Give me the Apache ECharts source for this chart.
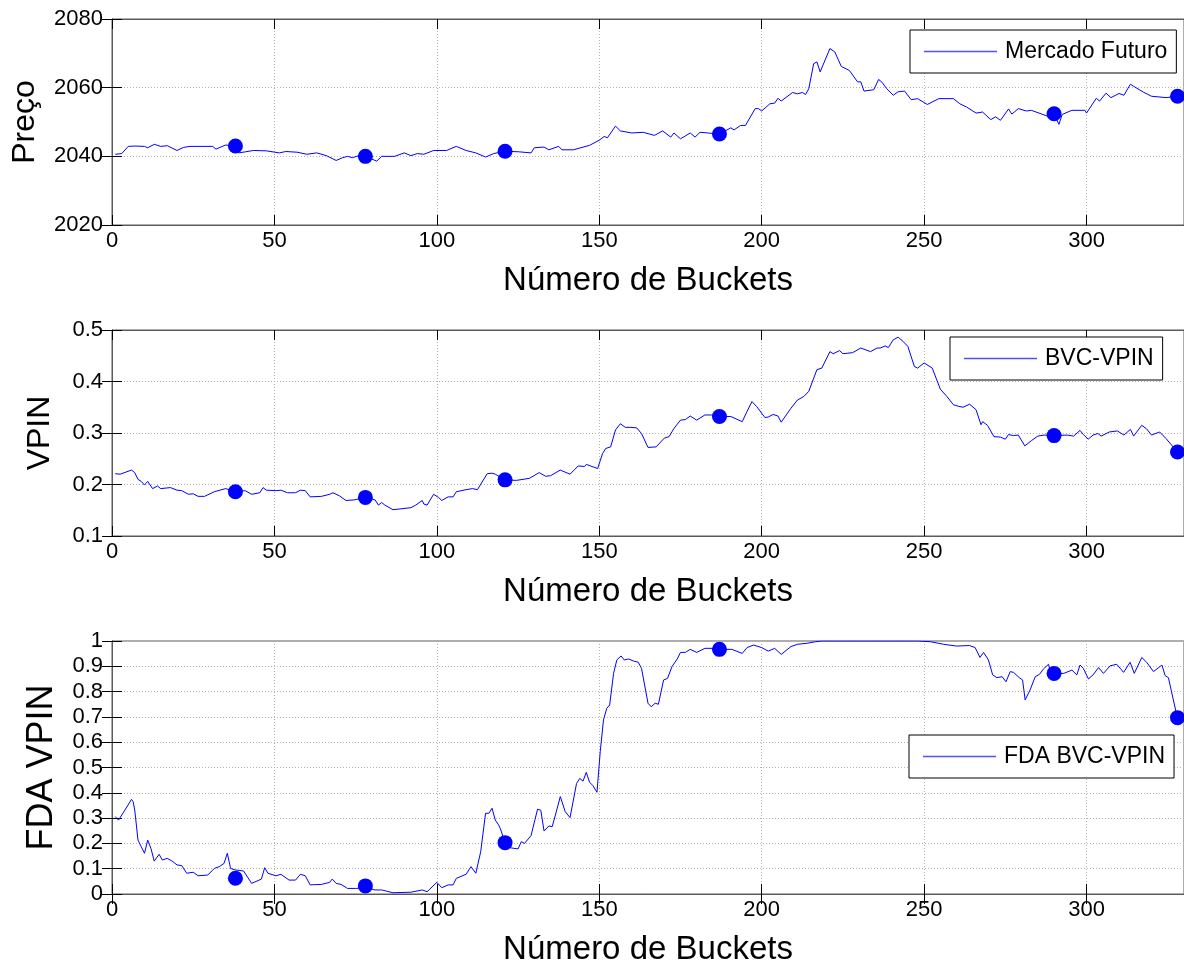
<!DOCTYPE html>
<html>
<head>
<meta charset="utf-8">
<script src="https://cdn.jsdelivr.net/npm/echarts@6/dist/echarts.min.js"></script>
<style>
  html, body { margin: 0; padding: 0; background: #fff; }
  #chart { width: 1184px; height: 967px; }
</style>
</head>
<body>
<div id="chart"></div>
<script>
// Futures price per volume bucket
const priceBuckets = [1,3,5,7,10,11,13,15,17,20,22,24,28,31,32,35,38,39,41,43.5,47.5,51.5,53.5,57,60,63,66,69,71,72.5,74,76,78,80,81.5,83,87,90,92,94,96,99,103,106,109,112,115,117.5,121,125.5,129,130,133,134.5,137.5,138.5,142,147,150,151.5,152.5,155,156.5,160,163.5,167,169.5,172,173,175,178,179.5,181,183.5,187,190.5,191.5,193.5,195,198,199,200,202.5,204,205,206,209.5,211,212.5,213.5,214.5,216,217,218,221,222.5,224.5,227,229.5,230.5,231.5,234.5,236,237,238.5,239,240.5,242,244,246,248,251,254.5,259,261,263,266,268,270.5,272,273.5,276,277,279,281.5,283,288,290,291.5,292.5,295.5,299.5,300,303,304,306,307.5,310,311.5,313.5,314.5,317.5,320,324.5,328];
const priceValues = [2040.6,2040.8,2042.9,2043.0,2042.9,2042.5,2043.5,2042.9,2043.1,2041.7,2042.6,2042.9,2042.9,2042.9,2042.1,2043.3,2043.0,2041.0,2041.3,2041.7,2041.6,2041.0,2041.4,2041.2,2040.6,2041.0,2040.2,2038.8,2039.6,2040.0,2039.6,2040.2,2040.0,2039.2,2038.6,2040.0,2040.0,2041.0,2040.2,2040.8,2040.6,2041.7,2041.7,2042.9,2041.7,2041.0,2039.8,2040.8,2041.5,2041.3,2041.0,2042.5,2042.7,2041.9,2042.9,2041.9,2041.9,2043.2,2044.7,2045.8,2045.4,2048.8,2047.4,2046.8,2047.0,2046.1,2047.4,2045.6,2046.8,2045.1,2046.8,2045.6,2047.0,2046.8,2046.5,2048.3,2047.7,2049.0,2049.0,2053.9,2053.9,2053.2,2055.3,2055.5,2056.9,2056.1,2058.6,2058.2,2058.6,2058.0,2059.7,2067.0,2067.5,2064.6,2071.4,2070.4,2066.2,2065.0,2061.7,2061.7,2059.0,2059.4,2062.4,2061.6,2059.7,2060.0,2057.8,2058.8,2059.0,2056.5,2056.8,2055.1,2056.8,2056.8,2055.3,2054.4,2052.6,2052.9,2050.7,2051.5,2050.5,2053.8,2052.3,2053.9,2053.2,2053.4,2051.7,2052.4,2049.3,2052.2,2053.4,2053.4,2052.6,2056.9,2056.1,2058.4,2057.1,2058.3,2057.8,2061.0,2060.4,2058.7,2057.5,2057.1,2057.5];

// BVC-VPIN per volume bucket
const vpinBuckets = [1,2.5,6,7,8,9,10,11,12.5,14,15,18,20,21.5,23.5,25,26.5,28.5,31.5,35,38,41,43,45.5,46.5,47.5,50.5,52,54,56.5,58,59.5,61,64.5,67,68,70,72,74.5,78,81,82,83,84,86.5,92,93.5,95.5,96,97,99,100.5,101.5,103.5,105,106,109,111,112.5,115.5,117,118,121,124.5,128.5,131.5,133.5,135,138,141,143.5,145.5,146,149.5,151,152,153.5,155,156.5,158,159.5,161.5,163,165,167.5,170,171.5,173,175,176.5,178,180,182.5,184.5,187,190.5,194,195.5,196,197,198.5,201,202,203.5,205,206,209,211,213,214.5,217,218.5,221,222,224,225,226.5,228,230.5,233.5,235.5,236.5,238,239,240.5,242,243.5,245,247,248,250,252.5,255,257,259,260.5,262,264,266,267.5,268,269.5,271.5,273.5,275,276,277.5,279,281,283,285,287,290,294,296,298,299,300.5,302,303.5,304.5,307,309.5,311.5,313.5,314.5,317,318.5,320,322.5,324.5,328];
const vpinValues = [0.221,0.220,0.228,0.223,0.210,0.206,0.199,0.206,0.192,0.197,0.192,0.194,0.189,0.188,0.181,0.182,0.177,0.177,0.186,0.192,0.186,0.188,0.181,0.184,0.194,0.189,0.188,0.189,0.184,0.184,0.189,0.188,0.176,0.177,0.181,0.184,0.178,0.169,0.170,0.175,0.170,0.160,0.165,0.160,0.151,0.155,0.160,0.169,0.162,0.160,0.181,0.175,0.169,0.176,0.176,0.186,0.190,0.192,0.190,0.221,0.222,0.220,0.209,0.208,0.212,0.223,0.216,0.217,0.228,0.220,0.236,0.235,0.239,0.231,0.260,0.270,0.273,0.306,0.318,0.311,0.311,0.310,0.299,0.272,0.273,0.290,0.293,0.309,0.325,0.326,0.333,0.325,0.335,0.335,0.332,0.332,0.322,0.342,0.344,0.361,0.351,0.330,0.331,0.336,0.333,0.321,0.348,0.364,0.371,0.381,0.423,0.426,0.458,0.454,0.460,0.454,0.455,0.456,0.465,0.458,0.465,0.465,0.469,0.466,0.481,0.486,0.478,0.468,0.429,0.426,0.436,0.426,0.385,0.371,0.355,0.352,0.350,0.356,0.345,0.316,0.322,0.315,0.293,0.292,0.288,0.297,0.295,0.296,0.275,0.285,0.294,0.296,0.295,0.296,0.294,0.305,0.297,0.288,0.296,0.299,0.294,0.302,0.304,0.296,0.307,0.294,0.315,0.308,0.296,0.302,0.289,0.263];

// FDA of BVC-VPIN per volume bucket
const fdaBuckets = [1,2,4,6,6.5,7,8,9,10,11,12,13,14.5,15.5,17,18.5,20,21.5,23,25,26.5,29.5,31.5,33,34.5,35.5,36.5,38,40.5,43,46,47,48,50.5,52,54.5,56.5,58,59.5,61,64.5,67,67.8,69,70.5,72.5,75,78,81,83,86.5,92,95.5,97,100,101.5,103.5,105,106,109,110.5,112,113.5,115,116,117,118,119,119.5,121,122.5,125,126,127,129,131,132,133,134.5,135.5,136.5,138,139.5,141,143,144,145,146,147,148,149.3,150.3,151.3,152.3,153.2,154.4,155.4,156.7,157.7,159,160.5,162,163,165,166,167.2,168.2,169.8,171,172.4,174,175,176.5,178,180,182.5,185,187,190.8,194,195.5,197.5,200,202,204,206,209,211,214,216.5,218.5,248,252,256,260,264,265.7,267.2,268.3,269.8,271.1,272.4,274,275.2,276.5,277.5,278,279.3,280.3,281.1,282.6,284.2,285.5,286.7,288.3,289,290,293,295.5,297,298,299,300.6,302,303.7,305.2,307.3,309.3,311.4,313.4,314.7,317,318.5,319,320.6,323.2,324.2,325.2,327.8,328];
const fdaValues = [0.306,0.292,0.332,0.374,0.365,0.332,0.213,0.187,0.161,0.213,0.180,0.130,0.157,0.134,0.141,0.130,0.115,0.112,0.082,0.086,0.072,0.075,0.101,0.108,0.121,0.161,0.101,0.095,0.091,0.042,0.059,0.104,0.082,0.072,0.078,0.055,0.055,0.078,0.072,0.036,0.038,0.046,0.059,0.042,0.038,0.022,0.022,0.025,0.016,0.016,0.005,0.007,0.016,0.009,0.046,0.025,0.036,0.036,0.062,0.078,0.108,0.082,0.167,0.319,0.319,0.339,0.292,0.273,0.260,0.203,0.183,0.178,0.207,0.200,0.231,0.335,0.331,0.249,0.269,0.266,0.312,0.385,0.326,0.302,0.437,0.457,0.446,0.481,0.442,0.429,0.402,0.563,0.688,0.734,0.747,0.872,0.925,0.941,0.925,0.929,0.921,0.916,0.892,0.754,0.740,0.754,0.750,0.846,0.852,0.899,0.929,0.955,0.955,0.967,0.955,0.971,0.971,0.967,0.967,0.951,0.974,0.984,0.974,0.960,0.971,0.947,0.978,0.987,0.991,0.997,1.0,1.0,0.997,0.987,0.980,0.982,0.974,0.935,0.955,0.925,0.866,0.855,0.859,0.839,0.879,0.876,0.881,0.855,0.846,0.767,0.806,0.859,0.868,0.889,0.908,0.875,0.872,0.872,0.885,0.866,0.905,0.892,0.850,0.866,0.895,0.872,0.902,0.908,0.876,0.916,0.872,0.935,0.916,0.921,0.879,0.905,0.863,0.855,0.705,0.697];

// Highlighted buckets
const markBuckets = [38, 78, 121, 187, 290, 328];
const priceMarks = [2043.0, 2040.0, 2041.5, 2046.5, 2052.4, 2057.5];
const vpinMarks = [0.186, 0.175, 0.209, 0.332, 0.295, 0.263];
const fdaMarks = [0.062, 0.032, 0.203, 0.967, 0.872, 0.697];

const xTitle = 'Número de Buckets';
const panelTitles = ['Preço', 'VPIN', 'FDA VPIN'];
const seriesNames = ['Mercado Futuro', 'BVC-VPIN', 'FDA BVC-VPIN'];
const yRanges = [[2020, 2080, 20], [0.1, 0.5, 0.1], [0, 1, 0.1]];
const xRange = [0, 330, 50];

const FONT = 'Liberation Sans, Arial, Helvetica, sans-serif';
const BLUE = '#0000ff';
const FRAME = '#5a5a5a';

const zip = (xs, ys) => xs.map((x, i) => [x, ys[i]]);

const panels = [
  { top: 19, height: 206, line: zip(priceBuckets, priceValues), marks: zip(markBuckets, priceMarks),
    yNameGap: 71, yNameSize: 32, legend: { left: 910, top: 30 } },
  { top: 330, height: 206, line: zip(vpinBuckets, vpinValues), marks: zip(markBuckets, vpinMarks),
    yNameGap: 56, yNameSize: 32, legend: { left: 950, top: 337 } },
  { top: 641, height: 253, line: zip(fdaBuckets, fdaValues), marks: zip(markBuckets, fdaMarks),
    yNameGap: 52, yNameSize: 36, legend: { left: 909, top: 735 } }
];

const grids = [], xAxes = [], yAxes = [], series = [], legends = [];
const tickStyle = { show: true, inside: true, length: 10, lineStyle: { color: '#000', width: 1 } };
const gridLine = { show: true, lineStyle: { color: '#b4b4b4', type: [1, 2], width: 1 } };

panels.forEach((p, i) => {
  grids.push({ left: 112, top: p.top, width: 1072, height: p.height, show: true,
    borderColor: FRAME, borderWidth: 1, backgroundColor: '#fff' });
  // bottom x axis with labels and title
  xAxes.push({
    type: 'value', gridIndex: i, position: 'bottom', min: xRange[0], max: xRange[1], interval: xRange[2],
    name: xTitle, nameLocation: 'middle', nameGap: 39,
    nameTextStyle: { fontFamily: FONT, fontSize: 33, color: '#000' },
    axisLine: { show: true, lineStyle: { color: FRAME } },
    axisTick: tickStyle,
    axisLabel: { fontFamily: FONT, fontSize: 22, color: '#000', margin: 5, showMaxLabel: false },
    splitLine: gridLine
  });
  // top x axis: inward ticks only
  xAxes.push({
    type: 'value', gridIndex: i, position: 'top', min: xRange[0], max: xRange[1], interval: xRange[2],
    axisLine: { show: true, lineStyle: { color: FRAME } },
    axisTick: tickStyle, axisLabel: { show: false }, splitLine: { show: false }
  });
  const yr = yRanges[i];
  yAxes.push({
    type: 'value', gridIndex: i, position: 'left', min: yr[0], max: yr[1], interval: yr[2],
    name: panelTitles[i], nameLocation: 'middle', nameRotate: 90, nameGap: p.yNameGap,
    nameTextStyle: { fontFamily: FONT, fontSize: p.yNameSize, color: '#000' },
    axisLine: { show: true, lineStyle: { color: FRAME } },
    axisTick: tickStyle,
    axisLabel: { fontFamily: FONT, fontSize: 22, color: '#000', margin: 9,
      formatter: v => String(Math.round(v * 1000) / 1000) },
    splitLine: gridLine
  });
  // right y axis: inward ticks only
  yAxes.push({
    type: 'value', gridIndex: i, position: 'right', min: yr[0], max: yr[1], interval: yr[2],
    axisLine: { show: true, lineStyle: { color: FRAME } },
    axisTick: tickStyle, axisLabel: { show: false }, splitLine: { show: false }
  });
  series.push({
    name: seriesNames[i], type: 'line', xAxisIndex: 2 * i, yAxisIndex: 2 * i,
    data: p.line, symbol: 'none', showSymbol: false, smooth: false, animation: false,
    lineStyle: { color: BLUE, width: 1 }, itemStyle: { color: BLUE }
  });
  series.push({
    type: 'scatter', xAxisIndex: 2 * i, yAxisIndex: 2 * i,
    data: p.marks, symbol: 'circle', symbolSize: 15, animation: false,
    itemStyle: { color: BLUE, opacity: 1 }, z: 5
  });
  legends.push({
    data: [{ name: seriesNames[i], icon: 'rect', itemStyle: { color: '#5050ff' } }],
    left: p.legend.left, top: p.legend.top, orient: 'horizontal',
    backgroundColor: '#fff', borderColor: '#000', borderWidth: 1, borderRadius: 0,
    padding: [10, 9, 10, 14], itemWidth: 73, itemHeight: 1.5, selectedMode: false,
    textStyle: { fontFamily: FONT, fontSize: 23, color: '#000', padding: [0, 0, 0, 3] }
  });
});

const chart = echarts.init(document.getElementById('chart'), null, { renderer: 'canvas' });
chart.setOption({
  animation: false,
  backgroundColor: '#fff',
  grid: grids,
  xAxis: xAxes,
  yAxis: yAxes,
  legend: legends,
  series: series
});
</script>
</body>
</html>
